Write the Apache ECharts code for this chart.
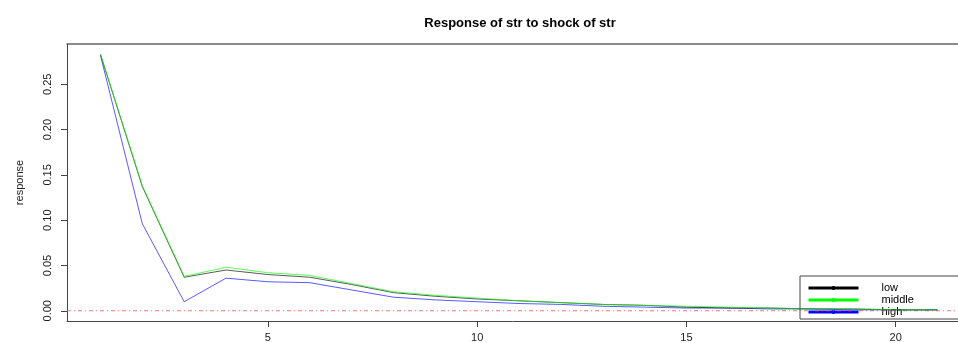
<!DOCTYPE html>
<html>
<head>
<meta charset="utf-8">
<script src="https://cdn.jsdelivr.net/npm/echarts@6/dist/echarts.min.js"></script>
<style>html,body{margin:0;padding:0;background:#fff;}#c{width:958px;height:343px;}</style>
</head>
<body>
<div id="c"></div>
<script>
const steps = [1,2,3,4,5,6,7,8,9,10,11,12,13,14,15,16,17,18,19,20,21];
const low = [0.283,0.137,0.037,0.045,0.040,0.037,0.029,0.020,0.016,0.013,0.011,0.009,0.007,0.006,0.004,0.003,0.003,0.002,0.002,0.001,0.001];
const middle = [0.283,0.138,0.038,0.048,0.042,0.039,0.030,0.021,0.017,0.014,0.011,0.009,0.007,0.006,0.005,0.004,0.003,0.002,0.002,0.001,0.001];
const high = [0.282,0.096,0.010,0.036,0.032,0.031,0.023,0.015,0.012,0.010,0.008,0.007,0.005,0.004,0.003,0.003,0.002,0.002,0.001,0.001,0.001];
const xTicks = [5,10,15,20];
const yTicks = [0,0.05,0.10,0.15,0.20,0.25];
const xRange = [0.2, 21.49];
const yRange = [-0.0113, 0.2945];
const zeroLevel = 0;

const font = 'Liberation Sans, Arial, sans-serif';
function pairs(v){ return steps.map((s,i)=>[s,v[i]]); }
function line(name, color, data, z){
  return {name, type:'line', data:pairs(data), symbol:'circle', symbolSize:4, showSymbol:false,
    lineStyle:{color, width:1, opacity:0.65}, itemStyle:{color}, z, animation:false};
}
const chart = echarts.init(document.getElementById('c'), null, {renderer:'canvas'});
const s = [line('low','#000000',low,3), line('middle','#00ff00',middle,4), line('high','#0000ff',high,2)];
s.push({name:'zero', type:'line', data:[[xRange[0],zeroLevel],[xRange[1],zeroLevel]], z:1, animation:false,
  symbol:'none', silent:true,
  itemStyle:{color:'#ff5a5a'}, lineStyle:{color:'#ff5a5a', type:[4,3,1,3], width:1, opacity:0.85}});
const axisCol = '#444';
chart.setOption({
  animation:false,
  title:{text:'Response of str to shock of str', left:515, textAlign:'center', top:12,
    textStyle:{fontFamily:font, fontSize:13, fontWeight:'bold', color:'#000'}},
  grid:{left:67, top:44, right:0, bottom:22},
  xAxis:[{type:'value', min:xRange[0], max:xRange[1], position:'bottom',
    axisLine:{show:true, onZero:false, lineStyle:{color:axisCol, width:1}}, splitLine:{show:false},
    axisTick:{show:true, customValues:xTicks, length:6, lineStyle:{color:axisCol}},
    axisLabel:{customValues:xTicks, margin:11, fontFamily:font, fontSize:11, color:'#222'}},
    {type:'value', min:xRange[0], max:xRange[1], position:'top',
    axisLine:{show:true, onZero:false, lineStyle:{color:'#666', width:1.5}}, splitLine:{show:false},
    axisTick:{show:false}, axisLabel:{show:false}}],
  yAxis:{type:'value', min:yRange[0], max:yRange[1], name:'response', nameLocation:'middle', nameGap:42,
    nameTextStyle:{fontFamily:font, fontSize:11, color:'#222'},
    axisLine:{show:true, onZero:false, lineStyle:{color:axisCol, width:1}}, splitLine:{show:false},
    axisTick:{show:true, customValues:yTicks, length:6, lineStyle:{color:axisCol}},
    axisLabel:{customValues:yTicks, rotate:90, margin:14, fontFamily:font, fontSize:11, color:'#222',
      formatter:v=>v.toFixed(2)}},
  legend:{orient:'vertical', left:800, top:276, itemWidth:50, itemHeight:5, itemGap:0, z:0,
    padding:[6,200,1,7], borderColor:axisCol, borderWidth:1, backgroundColor:'transparent',
    lineStyle:{width:3, opacity:1},
    textStyle:{fontFamily:font, fontSize:11, color:'#000', lineHeight:12, padding:[0,0,0,18]},
    data:['low','middle','high']},
  series:s
});
</script>
</body>
</html>
